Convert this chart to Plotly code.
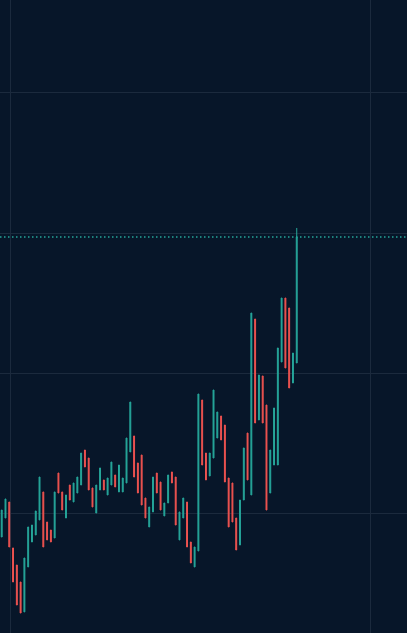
import plotly.graph_objects as go

# candle index (trading periods)
idx = list(range(79))

high = [100.57, 102.14, 101.71, 95.16, 92.73, 90.31, 93.73, 98.15, 98.43, 100.43,
        105.27, 103.14, 98.86, 97.72, 103.14, 105.84, 103.14, 102.71, 104.13, 104.42,
        105.27, 108.69, 109.12, 107.98, 103.71, 104.13, 106.56, 104.85, 105.13, 107.41,
        105.56, 106.98, 105.13, 110.83, 115.96, 111.12, 107.27, 108.41, 102.28, 101.00,
        105.27, 105.84, 104.56, 101.57, 105.56, 105.99, 105.27, 100.29, 102.28, 101.71,
        96.01, 95.30, 117.10, 116.25, 108.69, 108.69, 117.67, 114.54, 113.97, 112.68,
        105.13, 104.42, 99.43, 101.99, 109.41, 111.54, 128.64, 127.79, 119.81, 119.67,
        115.53, 109.12, 115.11, 123.66, 130.78, 130.78, 129.36, 122.94, 140.76]

low = [96.72, 99.43, 95.30, 90.31, 87.03, 85.89, 86.04, 92.45, 96.01, 97.01,
       99.15, 95.30, 96.30, 96.01, 96.58, 102.99, 100.57, 99.43, 101.99, 101.71,
       102.99, 104.13, 106.70, 103.42, 101.00, 100.14, 103.42, 103.42, 102.71, 104.13,
       103.85, 103.14, 103.14, 104.42, 108.84, 105.27, 102.99, 101.28, 99.43, 98.15,
       100.29, 102.99, 100.57, 99.72, 101.57, 104.42, 98.43, 96.30, 99.43, 95.30,
       93.02, 92.45, 94.73, 106.98, 104.85, 105.42, 107.98, 110.83, 110.55, 104.56,
       98.15, 98.86, 94.87, 95.58, 101.99, 104.85, 102.71, 112.97, 113.40, 112.97,
       100.57, 102.99, 106.98, 106.98, 121.66, 120.81, 117.96, 118.67, 121.52]

# direction: 1 = up (green), 0 = down (red)
up = [1, 1, 0, 0, 0, 0, 1, 1, 1, 1,
      1, 0, 0, 0, 1, 0, 0, 1, 0, 1,
      1, 1, 0, 0, 0, 1, 1, 0, 1, 1,
      0, 1, 1, 1, 1, 0, 0, 0, 0, 1,
      1, 0, 0, 1, 1, 0, 0, 1, 1, 0,
      0, 1, 1, 0, 0, 1, 1, 1, 0, 0,
      0, 0, 0, 1, 1, 0, 1, 0, 1, 0,
      0, 1, 1, 1, 1, 0, 0, 1, 1]

last_close = 139.47

open_ = [l if u else h for h, l, u in zip(high, low, up)]
close = [h if u else l for h, l, u in zip(high, low, up)]
close[-1] = last_close

GREEN = "#26a69a"
RED = "#ef5350"
BG = "#071629"
GRID = "#1b2a3d"

fig = go.Figure(go.Candlestick(
    x=idx, open=open_, high=high, low=low, close=close,
    increasing=dict(line=dict(color=GREEN, width=1), fillcolor=GREEN),
    decreasing=dict(line=dict(color=RED, width=1), fillcolor=RED),
    whiskerwidth=0, hoverinfo="skip",
))

fig.add_shape(type="line", xref="paper", x0=0, x1=1, yref="y",
              y0=last_close, y1=last_close,
              line=dict(color=GREEN, width=1.5, dash="1.5px,2.5px"))

fig.update_layout(
    width=407, height=633,
    margin=dict(l=0, r=0, t=0, b=0),
    paper_bgcolor=BG, plot_bgcolor=BG,
    showlegend=False,
    boxgap=0.65,
    xaxis=dict(range=[-0.45, 107.15], rangeslider=dict(visible=False),
               tickvals=[2.2, 97.6], showticklabels=False, showgrid=True,
               gridcolor=GRID, gridwidth=1, zeroline=False, showline=False, ticks=""),
    yaxis=dict(range=[83.04, 173.25], tickvals=[100, 120, 140, 160],
               showticklabels=False, showgrid=True, gridcolor=GRID, gridwidth=1,
               zeroline=False, showline=False, ticks=""),
)

fig.write_html("out.html", config={"displayModeBar": False},
               post_script="document.body.style.margin='0';document.body.style.background='%s';" % BG)
